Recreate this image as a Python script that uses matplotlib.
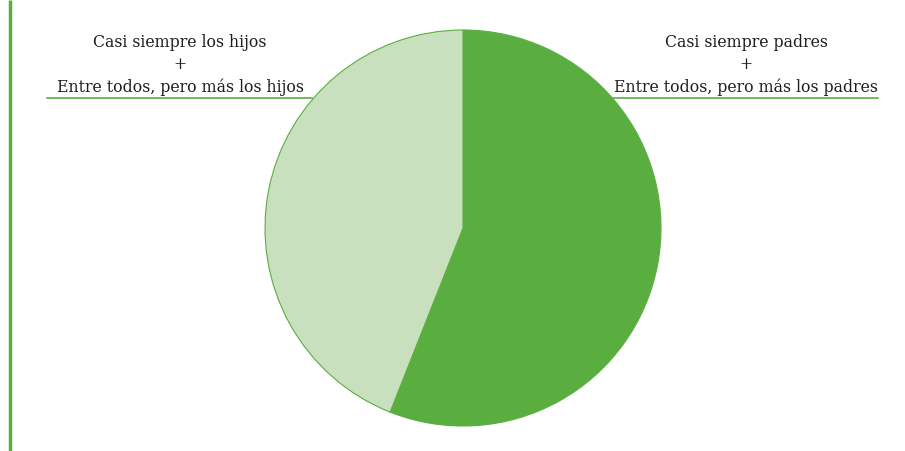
import matplotlib
matplotlib.use("Agg")
from matplotlib import pyplot as plt

# shares (percent)
categorias = ["Casi siempre padres\n+\nEntre todos, pero más los padres",
              "Casi siempre los hijos\n+\nEntre todos, pero más los hijos"]
valores = [56, 44]
colores = ["#5aae40", "#c9e0bf"]
verde = "#5aae40"

plt.rcParams['font.family'] = ['DejaVu Serif']

fig = plt.figure(figsize=(9.05, 4.51), dpi=100)
ax = fig.add_axes([0, 0, 1, 1])
ax.set_xlim(0, 905)
ax.set_ylim(0, 451)
ax.set_aspect('equal')
ax.axis('off')

ax.pie(valores, colors=colores, startangle=90, counterclock=False,
       center=(463, 223), radius=198,
       wedgeprops=dict(edgecolor=verde, linewidth=0.8))
ax.set_xlim(0, 905)
ax.set_ylim(0, 451)

# left rule
ax.plot([10, 10], [0, 451], color=verde, linewidth=2.5, solid_capstyle='butt')

# labels with underline
ax.text(746, 386, categorias[0], ha='center', va='center', fontsize=11.3,
        color='#1e1e1e', linespacing=1.38)
ax.plot([612, 878], [353, 353], color=verde, linewidth=1.2)
ax.text(180, 386, categorias[1], ha='center', va='center', fontsize=11.3,
        color='#1e1e1e', linespacing=1.38)
ax.plot([47, 312], [353, 353], color=verde, linewidth=1.2)

fig.savefig("out.png", dpi=100)
